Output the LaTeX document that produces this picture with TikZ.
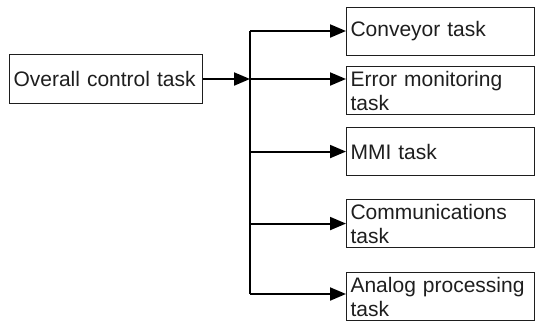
\documentclass[tikz,border=0pt]{standalone}
\usepackage{fontspec}
\setmainfont{Liberation Sans}
\usetikzlibrary{arrows.meta,positioning}
\definecolor{ink}{HTML}{1E1E1E}
\tikzset{
  taskbox/.style={draw=ink, line width=1.1pt, rectangle, inner xsep=4pt, inner ysep=0pt,
    text width=180pt, align=left, minimum height=48pt, anchor=north west,
    font=\fontsize{21}{24}\selectfont, text=ink},
  mainbox/.style={taskbox, text width=185pt, minimum height=49pt},
  conn/.style={draw=black, line width=2pt, -{Triangle[length=16pt,width=13pt]}},
  bus/.style={draw=black, line width=1.3pt}
}
\begin{document}
\begin{tikzpicture}[x=1pt,y=-1pt]
\useasboundingbox (0,0) rectangle (535,322);
\node[mainbox] (main) at (9,54) {Overall control task};
\node[taskbox] (conv) at (346,7) {Conveyor task};
\node[taskbox] (err) at (346,66) {Error monitoring\\task};
\node[taskbox] (mmi) at (346,127) {MMI task};
\node[taskbox] (comm) at (346,199) {Communications\\task};
\node[taskbox] (ana) at (346,272) {Analog processing\\task};
\coordinate (vt) at (250,31);
\coordinate (vm) at (250,79);
\coordinate (vb) at (250,294);
\draw[bus] (vt) -- (vb);
\draw[conn] (main.east |- vm) -- (vm);
\draw[conn] (vt) -- (vt -| conv.west);
\draw[conn] (vm) -- (vm -| err.west);
\draw[conn] (mmi.west -| vt) -- (mmi.west);
\draw[conn] (comm.west -| vt) -- (comm.west);
\draw[conn] (vb) -- (vb -| ana.west);
\end{tikzpicture}
\end{document}
